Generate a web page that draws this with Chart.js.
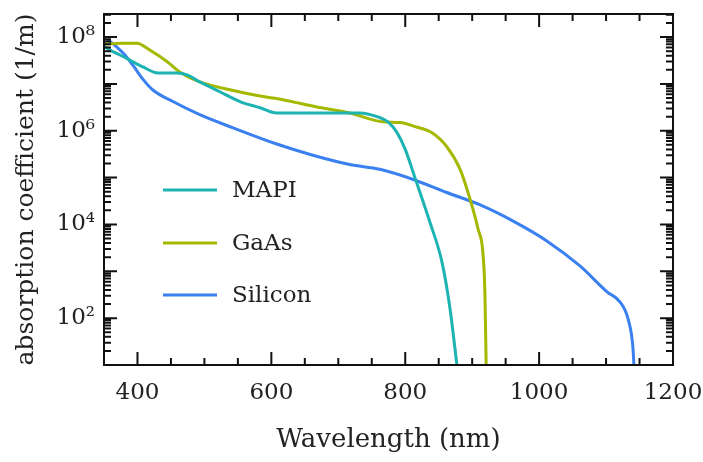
<!DOCTYPE html>
<html>
<head>
<meta charset="utf-8">
<script src="https://cdn.jsdelivr.net/npm/chart.js@4.4.0/dist/chart.umd.min.js"></script>
<style>
  html, body { margin: 0; padding: 0; background: #fff; }
</style>
</head>
<body>
<canvas id="myChart" width="703" height="462"></canvas>
<script>
// wavelength (nm) and absorption coefficient (1/m)
const mapiWl = [350, 360, 384, 408, 431, 459, 474, 493, 523, 553, 583, 608, 668, 732, 758, 775, 788, 800, 815, 837, 855, 867, 878];
const mapiAbs = [6.3e7, 5.2e7, 3.5e7, 2.3e7, 1.7e7, 1.7e7, 1.55e7, 1.1e7, 6.8e6, 4.2e6, 3.1e6, 2.4e6, 2.4e6, 2.4e6, 2.0e6, 1.5e6, 9.0e5, 4.0e5, 9.5e4, 1.1e4, 1.55e3, 1.55e2, 8];

const gaasWl = [350, 375, 399, 419, 444, 463, 493, 543, 583, 617, 668, 717, 767, 792, 817, 840, 862, 882, 897, 909, 916, 919, 921];
const gaasAbs = [7.0e7, 7.4e7, 7.4e7, 5.2e7, 3.0e7, 1.8e7, 1.1e7, 7.2e6, 5.5e6, 4.6e6, 3.2e6, 2.4e6, 1.55e6, 1.5e6, 1.2e6, 9.1e5, 4.6e5, 1.5e5, 3.4e4, 7.8e3, 2.5e3, 3.5e2, 8];

const siWl = [355, 368, 381, 395, 408, 423, 453, 493, 543, 608, 662, 717, 762, 812, 862, 912, 964, 1012, 1061, 1101, 1121, 1133, 1140, 1142];
const siAbs = [8.9e7, 6.3e7, 4.2e7, 2.3e7, 1.26e7, 7.4e6, 4.2e6, 2.2e6, 1.15e6, 5.2e5, 3.0e5, 1.9e5, 1.5e5, 9.1e4, 4.8e4, 2.6e4, 1.12e4, 4.4e3, 1.3e3, 3.7e2, 2.2e2, 95, 25, 8];

// axis ticks
const xTicks = [400, 450, 500, 550, 600, 650, 700, 750, 800, 850, 900, 950, 1000, 1050, 1100, 1150, 1200];
const xLabels = [400, 600, 800, 1000, 1200];
const yDecades = [1, 2, 3, 4, 5, 6, 7, 8];
const yLabelDecades = [2, 4, 6, 8];
const sup = { 2: '\u00b2', 4: '\u2074', 6: '\u2076', 8: '\u2078' };

const FONT = "'DejaVu Serif', serif";

function toPoints(xs, ys) {
    return xs.map((x, i) => ({ x: x, y: ys[i] }));
}

function yTickValues() {
    const out = [];
    yDecades.forEach(d => {
        for (let m = 1; m <= 9; m++) out.push(m * Math.pow(10, d));
    });
    out.push(2e8, 3e8);
    return out;
}

function isDecade(v) {
    const l = Math.log10(v);
    return Math.abs(l - Math.round(l)) < 1e-9;
}

// ticks drawn inside the frame on all four sides
const frameTicks = {
    id: 'frameTicks',
    afterDatasetsDraw(chart) {
        const { ctx, chartArea: a, scales: { x, y } } = chart;
        ctx.save();
        ctx.strokeStyle = '#111';
        ctx.lineWidth = 2;
        ctx.beginPath();
        xTicks.forEach(v => {
            const px = x.getPixelForValue(v);
            const len = xLabels.includes(v) ? 13 : 7;
            ctx.moveTo(px, a.bottom); ctx.lineTo(px, a.bottom - len);
            ctx.moveTo(px, a.top); ctx.lineTo(px, a.top + len);
        });
        yTickValues().forEach(v => {
            const py = y.getPixelForValue(v);
            if (py < a.top || py > a.bottom) return;
            const len = isDecade(v) ? 13 : 7;
            ctx.moveTo(a.left, py); ctx.lineTo(a.left + len, py);
            ctx.moveTo(a.right, py); ctx.lineTo(a.right - len, py);
        });
        ctx.stroke();
        ctx.lineWidth = 2;
        ctx.strokeRect(a.left, a.top, a.right - a.left, a.bottom - a.top);
        ctx.restore();
    }
};

// legend sitting inside the plot area
const insideLegend = {
    id: 'insideLegend',
    afterDraw(chart) {
        const ctx = chart.ctx;
        const rows = [190, 243, 295];
        ctx.save();
        ctx.font = "23px " + FONT;
        ctx.textBaseline = 'middle';
        chart.data.datasets.forEach((ds, i) => {
            ctx.strokeStyle = ds.borderColor;
            ctx.lineWidth = 3;
            ctx.beginPath();
            ctx.moveTo(163, rows[i]);
            ctx.lineTo(217, rows[i]);
            ctx.stroke();
            ctx.fillStyle = '#222';
            ctx.fillText(ds.label, 232, rows[i] + 1);
        });
        ctx.restore();
    }
};

const ctx1 = document.getElementById('myChart').getContext('2d');

new Chart(ctx1, {
    type: 'line',
    data: {
        datasets: [
            {
                label: 'MAPI',
                data: toPoints(mapiWl, mapiAbs),
                borderColor: '#1db3b3',
                borderWidth: 3,
                pointRadius: 0,
                cubicInterpolationMode: 'monotone'
            },
            {
                label: 'GaAs',
                data: toPoints(gaasWl, gaasAbs),
                borderColor: '#a5b800',
                borderWidth: 3,
                pointRadius: 0,
                cubicInterpolationMode: 'monotone'
            },
            {
                label: 'Silicon',
                data: toPoints(siWl, siAbs),
                borderColor: '#3a80f0',
                borderWidth: 3,
                pointRadius: 0,
                cubicInterpolationMode: 'monotone'
            }
        ]
    },
    options: {
        responsive: false,
        animation: false,
        layout: { padding: { top: 14, right: 30, left: 0, bottom: 0 } },
        plugins: {
            legend: { display: false },
            tooltip: { enabled: false }
        },
        scales: {
            x: {
                type: 'linear',
                min: 350,
                max: 1200,
                grid: { display: false, drawTicks: false },
                border: { display: false },
                afterBuildTicks: scale => {
                    scale.ticks = xTicks.map(v => ({ value: v }));
                },
                afterFit: scale => {
                    scale.height = 97;
                    scale.paddingLeft = 0;
                    scale.paddingRight = 0;
                },
                ticks: {
                    autoSkip: false,
                    maxRotation: 0,
                    padding: 14,
                    color: '#222',
                    font: { family: FONT, size: 23 },
                    callback: v => xLabels.includes(v) ? String(v) : ''
                },
                title: {
                    display: true,
                    text: 'Wavelength (nm)',
                    color: '#222',
                    font: { family: FONT, size: 26 },
                    padding: { top: 0, bottom: 6 }
                }
            },
            y: {
                type: 'logarithmic',
                min: 10,
                max: 3.1e8,
                grid: { display: false, drawTicks: false },
                border: { display: false },
                afterBuildTicks: scale => {
                    scale.ticks = yTickValues().map(v => ({ value: v }));
                },
                afterFit: scale => {
                    scale.width = 104;
                    scale.paddingTop = 0;
                    scale.paddingBottom = 0;
                },
                ticks: {
                    autoSkip: false,
                    padding: 9,
                    color: '#222',
                    font: { family: FONT, size: 23 },
                    callback: v => {
                        if (!isDecade(v)) return '';
                        const e = Math.round(Math.log10(v));
                        return yLabelDecades.includes(e) ? '10' + sup[e] : '';
                    }
                },
                title: {
                    display: true,
                    text: 'absorption coefficient (1/m)',
                    color: '#222',
                    font: { family: FONT, size: 25 },
                    padding: { top: 11, bottom: 0 }
                }
            }
        }
    },
    plugins: [frameTicks, insideLegend]
});
</script>
</body>
</html>
